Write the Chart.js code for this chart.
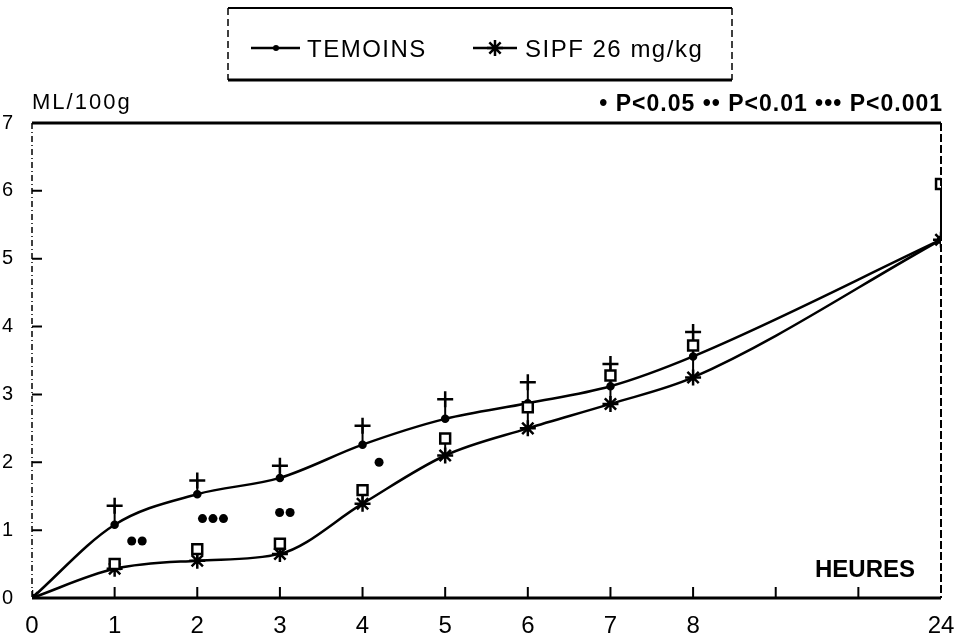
<!DOCTYPE html>
<html>
<head>
<meta charset="utf-8">
<script src="https://cdn.jsdelivr.net/npm/chart.js@4/dist/chart.umd.min.js"></script>
<style>
  html, body { margin: 0; padding: 0; background: #fff; }
  #wrap { width: 957px; height: 640px; }
</style>
</head>
<body>
<div id="wrap"><canvas id="c"></canvas></div>
<script>
// hours after dosing (24 h sits after a break in the axis)
const hours = [0, 1, 2, 3, 4, 5, 6, 7, 8, 24];
const xTickLabels = ["0", "1", "2", "3", "4", "5", "6", "7", "8", "", "", "24"];

// ML/100g
const temoins = [0, 1.08, 1.53, 1.77, 2.26, 2.64, 2.87, 3.12, 3.56, 5.28];
const temoinsErr = [null, 1.36, 1.73, 1.95, 2.54, 2.93, 3.18, 3.45, 3.92, null];
const sipf = [0, 0.43, 0.55, 0.65, 1.39, 2.1, 2.5, 2.86, 3.25, 5.28];
const sipfErr = [null, 0.5, 0.72, 0.8, 1.59, 2.35, 2.81, 3.28, 3.72, 6.1];

// significance marks: hour, level, number of stars
const sigHours = [1.27, 2.19, 3.06, 4.2];
const sigValues = [0.84, 1.17, 1.26, 2.0];
const sigStars = [2, 3, 2, 1];

const yTicks = [0, 1, 2, 3, 4, 5, 6, 7];

const FONT = '"Liberation Sans", Arial, sans-serif';

// place an hour on the broken axis
const slot = (h) => (h <= 8 ? h : xTickLabels.indexOf(String(h)));
const pts = (vals) => hours.map((h, i) => ({ x: slot(h), y: vals[i] })).filter((p) => p.y !== null);

const chrome = {
  id: "chrome",
  beforeDatasetsDraw(chart) {
    const { ctx, scales: { x, y } } = chart;
    ctx.save();
    ctx.strokeStyle = "#000";
    ctx.lineWidth = 2;
    // error stems
    [[temoins, temoinsErr], [sipf, sipfErr]].forEach(([m, e]) => {
      hours.forEach((h, i) => {
        if (e[i] === null) return;
        const px = x.getPixelForValue(slot(h));
        ctx.beginPath();
        ctx.moveTo(px, y.getPixelForValue(m[i]));
        ctx.lineTo(px, y.getPixelForValue(e[i]));
        ctx.stroke();
      });
    });
    ctx.restore();
  },
  afterDraw(chart) {
    const { ctx, chartArea: a, scales: { x, y } } = chart;
    ctx.save();
    ctx.strokeStyle = "#000";
    ctx.fillStyle = "#000";

    // frame: solid top and bottom, dashed sides
    ctx.lineWidth = 3;
    ctx.beginPath();
    ctx.moveTo(a.left, a.top); ctx.lineTo(a.right, a.top);
    ctx.moveTo(a.left, a.bottom); ctx.lineTo(a.right, a.bottom);
    ctx.stroke();
    ctx.lineWidth = 1.5;
    ctx.setLineDash([6, 3, 1, 3]);
    ctx.beginPath();
    ctx.moveTo(a.left, a.top); ctx.lineTo(a.left, a.bottom);
    ctx.stroke();
    ctx.lineWidth = 2;
    ctx.setLineDash([8, 3]);
    ctx.beginPath();
    ctx.moveTo(a.right, a.top); ctx.lineTo(a.right, a.bottom);
    ctx.stroke();
    ctx.setLineDash([]);

    // inward ticks
    ctx.lineWidth = 2;
    ctx.beginPath();
    yTicks.slice(1, -1).forEach((v) => {
      const py = y.getPixelForValue(v);
      ctx.moveTo(a.left, py); ctx.lineTo(a.left + 10, py);
    });
    xTickLabels.forEach((_, i) => {
      if (i === 0 || i === xTickLabels.length - 1) return;
      const px = x.getPixelForValue(i);
      ctx.moveTo(px, a.bottom); ctx.lineTo(px, a.bottom - 11);
    });
    ctx.stroke();

    // significance marks
    sigHours.forEach((h, i) => {
      const cx = x.getPixelForValue(h);
      const cy = y.getPixelForValue(sigValues[i]);
      const n = sigStars[i];
      for (let k = 0; k < n; k++) {
        ctx.beginPath();
        ctx.arc(cx + (k - (n - 1) / 2) * 10.5, cy, 4.5, 0, Math.PI * 2);
        ctx.fill();
      }
    });

    // texts
    ctx.textBaseline = "alphabetic";
    ctx.textAlign = "left";
    ctx.font = "22px " + FONT;
    ctx.letterSpacing = "2px";
    ctx.fillText("ML/100g", a.left, 109);
    ctx.font = "bold 23px " + FONT;
    ctx.letterSpacing = "1px";
    ctx.textAlign = "right";
    ctx.fillText("• P<0.05 •• P<0.01 ••• P<0.001", a.right + 2, 111);
    ctx.letterSpacing = "0px";
    ctx.font = "bold 24px " + FONT;
    ctx.fillText("HEURES", a.right - 26, 577);

    // legend box
    const L = 228, R = 732, T = 8, B = 80, my = 48;
    ctx.lineWidth = 2;
    ctx.beginPath();
    ctx.moveTo(L, T); ctx.lineTo(R, T);
    ctx.stroke();
    ctx.lineWidth = 3;
    ctx.beginPath();
    ctx.moveTo(L, B); ctx.lineTo(R, B);
    ctx.stroke();
    ctx.lineWidth = 1.5;
    ctx.setLineDash([7, 4]);
    ctx.beginPath();
    ctx.moveTo(L, T); ctx.lineTo(L, B);
    ctx.moveTo(R, T); ctx.lineTo(R, B);
    ctx.stroke();
    ctx.setLineDash([]);

    ctx.lineWidth = 2.5;
    ctx.beginPath();
    ctx.moveTo(251, my); ctx.lineTo(300, my);
    ctx.moveTo(473, my); ctx.lineTo(517, my);
    ctx.stroke();
    ctx.beginPath();
    ctx.arc(276, my, 3, 0, Math.PI * 2);
    ctx.fill();
    Chart.helpers.drawPoint(ctx, { pointStyle: "star", radius: 8, borderWidth: 2.5 }, 495, my);

    ctx.textAlign = "left";
    ctx.font = "24px " + FONT;
    ctx.letterSpacing = "1.5px";
    ctx.fillText("TEMOINS", 307, my + 9);
    ctx.fillText("SIPF 26 mg/kg", 525, my + 9);
    ctx.restore();
  }
};

new Chart(document.getElementById("c"), {
  data: {
    datasets: [
      {
        type: "scatter",
        label: "SIPF ES",
        data: pts(sipfErr),
        pointStyle: "rect",
        pointRadius: 7,
        pointBackgroundColor: "#fff",
        pointBorderColor: "#000",
        pointBorderWidth: 2.5
      },
      {
        type: "scatter",
        label: "TEMOINS ES",
        data: pts(temoinsErr),
        pointStyle: "cross",
        pointRadius: 8,
        pointBorderColor: "#000",
        pointBorderWidth: 2.5
      },
      {
        type: "scatter",
        label: "SIPF 26 mg/kg",
        data: pts(sipf),
        showLine: true,
        cubicInterpolationMode: "monotone",
        borderColor: "#000",
        borderWidth: 2.5,
        pointStyle: "star",
        pointRadius: 8,
        pointBorderColor: "#000",
        pointBorderWidth: 2.5
      },
      {
        type: "scatter",
        label: "TEMOINS",
        data: pts(temoins),
        showLine: true,
        cubicInterpolationMode: "monotone",
        borderColor: "#000",
        borderWidth: 2.5,
        pointStyle: "circle",
        pointRadius: 3,
        pointBackgroundColor: "#000",
        pointBorderColor: "#000"
      }
    ]
  },
  options: {
    responsive: true,
    maintainAspectRatio: false,
    animation: false,
    layout: { padding: { top: 123, right: 16, left: 0, bottom: 0 } },
    plugins: { legend: { display: false }, tooltip: { enabled: false } },
    scales: {
      x: {
        type: "linear",
        min: 0,
        max: xTickLabels.length - 1,
        afterBuildTicks: (s) => { s.ticks = xTickLabels.map((_, i) => ({ value: i })); },
        afterFit: (s) => { s.height = 42; s.paddingLeft = 0; s.paddingRight = 0; },
        grid: { display: false },
        border: { display: false },
        ticks: {
          autoSkip: false,
          maxRotation: 0,
          padding: 6,
          color: "#000",
          font: { family: FONT, size: 24 },
          callback: (v) => xTickLabels[v]
        }
      },
      y: {
        min: 0,
        max: 7,
        afterBuildTicks: (s) => { s.ticks = yTicks.map((v) => ({ value: v })); },
        afterFit: (s) => { s.width = 32; s.paddingTop = 0; s.paddingBottom = 0; },
        grid: { display: false },
        border: { display: false },
        ticks: {
          padding: 11,
          color: "#000",
          font: { family: FONT, size: 20 }
        }
      }
    }
  },
  plugins: [chrome]
});
</script>
</body>
</html>
